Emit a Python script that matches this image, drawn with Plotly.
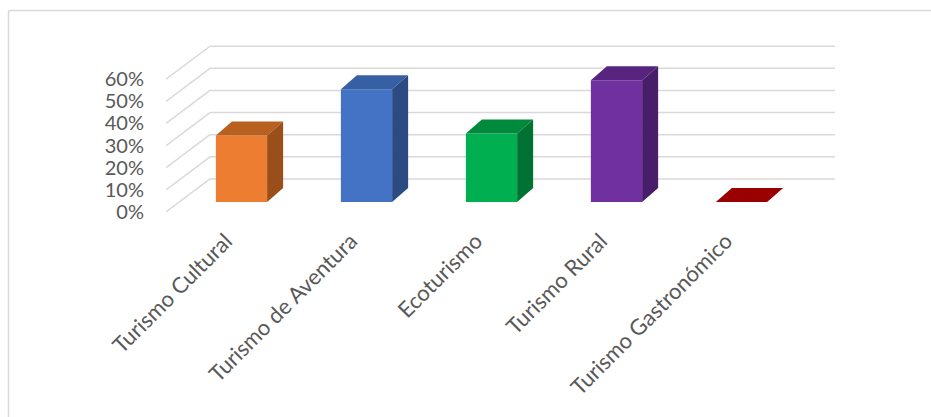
import plotly.graph_objects as go

# ---- data ----
categories = ["Turismo Cultural", "Turismo de Aventura", "Ecoturismo",
              "Turismo Rural", "Turismo Gastronómico"]
values = [0.30, 0.51, 0.31, 0.55, 0.0]
front_colors = ["#ED7D31", "#4472C4", "#00B050", "#7030A0", "#C00000"]
top_colors = ["#B8601F", "#375FA3", "#008A3D", "#57247F", "#9A0000"]
side_colors = ["#9A4E19", "#2C4B82", "#007332", "#481E6A", "#800000"]
y_ticks = [0, 0.1, 0.2, 0.3, 0.4, 0.5, 0.6]

# ---- pseudo-3D geometry (data units) ----
PX_X, PX_Y = 125.0, 221.2
DX, DY = 44 / PX_X, 33 / PX_Y          # floor depth
FX, FY = 13 / PX_X, 10 / PX_Y          # bar front plane offset
BX, BY = 16 / PX_X, 14 / PX_Y          # bar depth
BW = 0.41
X_LEFT, X_RIGHT = -0.5, 4.9
WALL_RIGHT = len(categories) - 0.5 + DX

fig = go.Figure()

centers = [i + FX for i in range(len(categories))]
label_pos = [i - 0.02 for i in range(len(categories))]

# front faces
fig.add_trace(go.Bar(x=centers, y=values, base=FY, width=BW,
                     marker=dict(color=front_colors, line=dict(width=0)),
                     showlegend=False, hoverinfo="skip"))

# top and side faces
for c, v, tc, sc in zip(centers, values, top_colors, side_colors):
    x0, x1 = c - BW / 2, c + BW / 2
    yt = v + FY
    fig.add_trace(go.Scatter(
        x=[x0, x1, x1 + BX, x0 + BX, x0],
        y=[yt, yt, yt + BY, yt + BY, yt],
        fill="toself", fillcolor=tc, mode="lines", line=dict(width=0, color=tc),
        showlegend=False, hoverinfo="skip"))
    if v > 0:
        fig.add_trace(go.Scatter(
            x=[x1, x1, x1 + BX, x1 + BX, x1],
            y=[FY, yt, yt + BY, FY + BY, FY],
            fill="toself", fillcolor=sc, mode="lines", line=dict(width=0, color=sc),
            showlegend=False, hoverinfo="skip"))

# gridlines (floor-side slant + back wall)
shapes = []
for t in y_ticks:
    shapes.append(dict(type="line", xref="x", yref="y", layer="below",
                       x0=X_LEFT, y0=t, x1=X_LEFT + DX, y1=t + DY,
                       line=dict(color="#D9D9D9", width=1.5)))
    shapes.append(dict(type="line", xref="x", yref="y", layer="below",
                       x0=X_LEFT + DX, y0=t + DY, x1=WALL_RIGHT, y1=t + DY,
                       line=dict(color="#D9D9D9", width=1.5)))

# chart-area border (top and left visible)
L, T, B, W, H = 166, 35, 194, 931, 417
pw, ph = W - L - 90, H - T - B
px = lambda p: (p - L) / pw
py = lambda p: (H - B - p) / ph
shapes.append(dict(type="line", xref="paper", yref="paper", layer="below",
                   x0=px(8.5), y0=py(10.5), x1=px(931), y1=py(10.5),
                   line=dict(color="#D9D9D9", width=1.5)))
shapes.append(dict(type="line", xref="paper", yref="paper", layer="below",
                   x0=px(8.5), y0=py(10.5), x1=px(8.5), y1=py(417),
                   line=dict(color="#D9D9D9", width=1.5)))

yfont = dict(family="Lato, Calibri, Carlito, sans-serif", size=20, color="#595959")
xfont = dict(family="Lato, Calibri, Carlito, sans-serif", size=22, color="#595959")

fig.update_layout(
    width=W, height=H,
    margin=dict(l=L, r=90, t=T, b=B, pad=0),
    paper_bgcolor="white", plot_bgcolor="white",
    shapes=shapes, font=yfont, barmode="overlay",
    xaxis=dict(range=[X_LEFT, X_RIGHT], tickvals=label_pos, ticktext=categories,
               tickangle=-45, showgrid=False, zeroline=False, showline=False,
               ticks="", tickfont=xfont, automargin=False),
    yaxis=dict(range=[-0.05, 0.8], tickvals=y_ticks, tickformat=".0%",
               showgrid=False, zeroline=False, showline=False, ticks="",
               tickfont=yfont, ticklabelstandoff=21, automargin=False),
)

fig.write_html("out.html")
